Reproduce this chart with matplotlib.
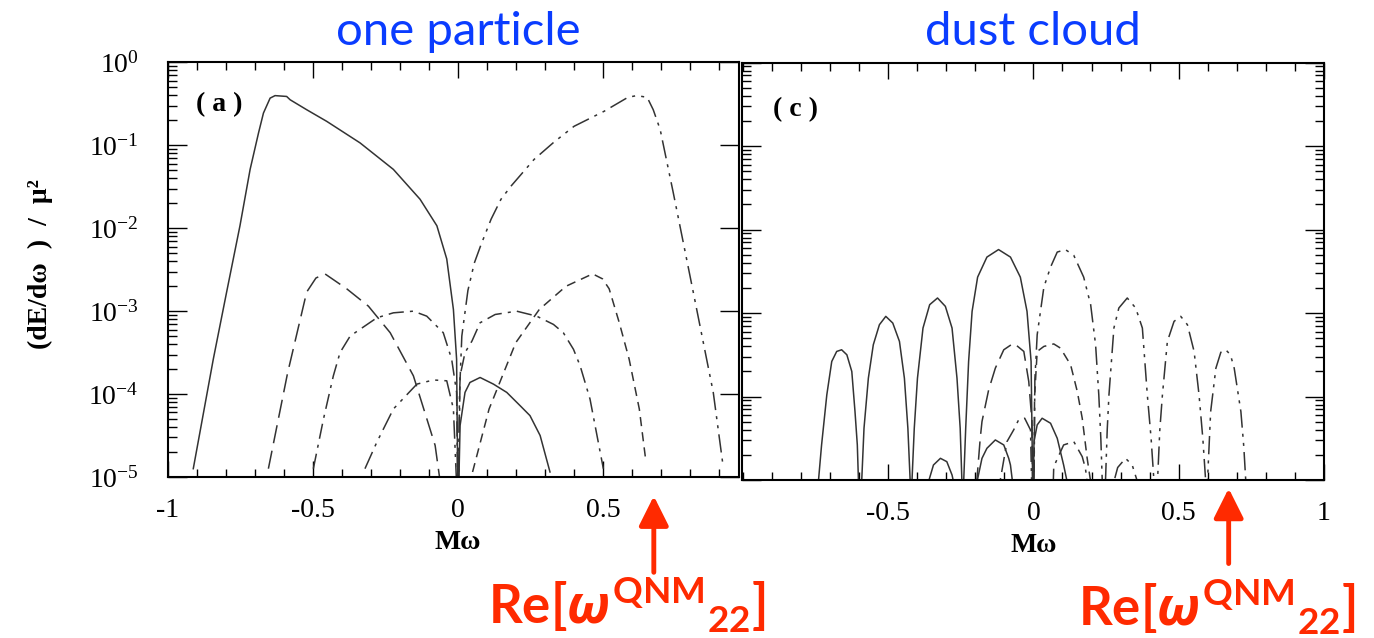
import matplotlib
matplotlib.use("Agg")
import matplotlib.pyplot as plt
import numpy as np
from matplotlib.ticker import FixedLocator, FixedFormatter, LogLocator, MultipleLocator, NullFormatter

plt.rcParams["mathtext.fontset"] = "custom"
plt.rcParams["mathtext.rm"] = "Liberation Serif"
plt.rcParams["mathtext.sf"] = "Lato:bold"
plt.rcParams["mathtext.it"] = "Open Sans:italic:bold"
plt.rcParams["mathtext.bf"] = "Liberation Serif:bold"

# values: x = M*omega, y given as log10((dE/domega)/mu^2)

# panel (a) one particle
a_solid_x = [-0.913, -0.844, -0.798, -0.752, -0.717, -0.688, -0.671, -0.648, -0.631, -0.591,
             -0.579, -0.522, -0.453, -0.338, -0.223, -0.131, -0.073, -0.039, -0.016, -0.005, 0.0]
a_solid_lg = [-4.90, -3.58, -2.77, -1.97, -1.29, -0.85, -0.61, -0.43, -0.40, -0.41,
              -0.45, -0.57, -0.71, -0.97, -1.29, -1.65, -1.97, -2.37, -2.98, -3.58, -5.5]

a_long_x = [-0.654, -0.588, -0.522, -0.49, -0.459, -0.384, -0.309, -0.234, -0.154, -0.079, -0.06]
a_long_lg = [-4.90, -3.75, -2.77, -2.60, -2.55, -2.73, -2.94, -3.26, -3.78, -4.62, -5.1]

a_dashdot_x = [-0.499, -0.464, -0.430, -0.407, -0.372, -0.280, -0.223, -0.154, -0.108, -0.051,
               -0.022, -0.005, 0.0, 0.007, 0.024, 0.048, 0.076, 0.128, 0.202, 0.271, 0.329,
               0.363, 0.398, 0.421, 0.455, 0.501]
a_dashdot_lg = [-4.90, -4.30, -3.78, -3.50, -3.30, -3.08, -3.02, -3.00, -3.06, -3.26,
                -3.58, -3.98, -5.5, -3.78, -3.50, -3.36, -3.14, -3.04, -3.00, -3.06, -3.16,
                -3.26, -3.46, -3.66, -4.06, -4.90]

a_ddd_small_x = [-0.321, -0.280, -0.223, -0.142, -0.085, -0.039, -0.016, 0.0]
a_ddd_small_lg = [-4.90, -4.58, -4.18, -3.88, -3.83, -3.84, -4.18, -5.5]

a_ddd_big_x = [0.0, 0.005, 0.013, 0.034, 0.056, 0.079, 0.114, 0.148, 0.183, 0.262, 0.331,
               0.400, 0.503, 0.586, 0.616, 0.652, 0.673, 0.697, 0.742, 0.811, 0.880, 0.914]
a_ddd_big_lg = [-5.5, -4.0, -3.30, -2.75, -2.42, -2.20, -1.89, -1.65, -1.49, -1.17, -0.96,
                -0.77, -0.59, -0.42, -0.40, -0.42, -0.57, -0.81, -1.57, -2.77, -3.98, -4.87]

a_solid_small_x = [0.0, 0.007, 0.024, 0.041, 0.076, 0.122, 0.168, 0.214, 0.248, 0.283, 0.317]
a_solid_small_lg = [-5.5, -4.38, -3.98, -3.86, -3.80, -3.88, -3.98, -4.14, -4.26, -4.50, -4.94]

a_short_x = [0.050, 0.107, 0.199, 0.280, 0.372, 0.464, 0.498, 0.521, 0.556, 0.590, 0.625, 0.648]
a_short_lg = [-4.94, -4.18, -3.38, -2.98, -2.70, -2.55, -2.61, -2.73, -3.14, -3.58, -4.18, -4.82]

# panel (c) dust cloud
c_solid_x = [-0.745, -0.740, -0.729, -0.711, -0.694, -0.677, -0.660, -0.642, -0.625, -0.614, -0.606, -0.602,
             -0.597, -0.591, -0.583, -0.568, -0.551, -0.530, -0.508, -0.484, -0.461, -0.444, -0.432, -0.424,
             -0.421, -0.418, -0.410, -0.399, -0.380, -0.357, -0.330, -0.303, -0.280, -0.263, -0.252, -0.246,
             -0.243, -0.240, -0.233, -0.223, -0.211, -0.192, -0.160, -0.120, -0.079, -0.045, -0.022, -0.008, 0.001]
c_solid_lg = [-6.0, -5.02, -4.58, -3.98, -3.58, -3.46, -3.44, -3.50, -3.70, -4.18, -4.58, -5.02,
              -6.0, -5.02, -4.38, -3.78, -3.38, -3.14, -3.04, -3.12, -3.34, -3.78, -4.38, -5.02,
              -6.0, -5.02, -4.38, -3.78, -3.18, -2.90, -2.82, -2.92, -3.18, -3.78, -4.38, -5.02,
              -6.0, -5.02, -4.38, -3.58, -2.98, -2.57, -2.33, -2.24, -2.33, -2.57, -2.98, -3.58, -6.0]

c_solid_small_x = [-0.365, -0.361, -0.344, -0.320, -0.298, -0.280, -0.275, -0.24,
                   -0.194, -0.177, -0.160, -0.131, -0.102, -0.085, -0.079, -0.072, -0.036,
                   0.0, 0.002, 0.013, 0.030, 0.059, 0.082, 0.104, 0.116, 0.12]
c_solid_small_lg = [-6.0, -5.02, -4.82, -4.74, -4.78, -4.94, -5.02, -6.0,
                    -5.02, -4.74, -4.62, -4.52, -4.58, -4.74, -4.82, -5.02, -6.0,
                    -5.02, -4.54, -4.34, -4.26, -4.32, -4.50, -4.82, -5.02, -6.0]

c_ddd_x = [0.0, 0.005, 0.013, 0.036, 0.059, 0.082, 0.110, 0.139, 0.173, 0.197, 0.214, 0.225, 0.232, 0.237,
           0.243, 0.248, 0.254, 0.260, 0.277, 0.294, 0.323, 0.352, 0.375, 0.392, 0.405, 0.415,
           0.421, 0.427, 0.435, 0.444, 0.461, 0.484, 0.507, 0.530, 0.553, 0.570, 0.583, 0.593,
           0.596, 0.599, 0.610, 0.628, 0.645, 0.662, 0.678, 0.691, 0.714, 0.724, 0.731, 0.736]
c_ddd_lg = [-6.0, -3.80, -3.26, -2.69, -2.45, -2.27, -2.24, -2.31, -2.57, -2.90, -3.38, -3.98, -4.50, -5.02,
            -6.0, -5.02, -4.40, -3.98, -3.18, -2.94, -2.82, -2.94, -3.18, -3.98, -4.50, -5.02,
            -6.0, -5.02, -4.40, -3.98, -3.34, -3.10, -3.04, -3.14, -3.46, -3.98, -4.50, -5.02,
            -6.0, -5.02, -4.18, -3.66, -3.47, -3.44, -3.50, -3.66, -4.18, -4.60, -5.02, -6.0]

c_ddd_small_x = [0.272, 0.277, 0.290, 0.317, 0.340, 0.358, 0.362]
c_ddd_small_lg = [-6.0, -5.02, -4.85, -4.74, -4.82, -5.02, -6.0]

c_long_x = [-0.20, -0.195, -0.183, -0.177, -0.154, -0.131, -0.102, -0.068, -0.033, -0.016, -0.005, 0.0]
c_long_lg = [-6.0, -5.02, -4.50, -4.30, -3.92, -3.66, -3.44, -3.36, -3.46, -3.82, -4.30, -6.0]

c_short_x = [0.0, 0.004, 0.013, 0.036, 0.070, 0.093, 0.128, 0.151, 0.168, 0.185, 0.197, 0.20]
c_short_lg = [-6.0, -4.00, -3.46, -3.40, -3.37, -3.42, -3.62, -3.94, -4.26, -4.74, -5.02, -6.0]

c_dashdot_x = [-0.12, -0.115, -0.091, -0.068, -0.051, -0.030, -0.010, 0.0,
               0.06, 0.070, 0.104, 0.139, 0.168, 0.179, 0.185, 0.19]
c_dashdot_lg = [-6.0, -5.02, -4.54, -4.40, -4.28, -4.26, -4.40, -6.0,
                -6.0, -4.84, -4.58, -4.54, -4.72, -4.86, -5.02, -6.0]

ytick_vals = [1e-5, 1e-4, 1e-3, 1e-2, 1e-1, 1e0]
ytick_labels = [r"$\mathrm{10^{-5}}$", r"$\mathrm{10^{-4}}$", r"$\mathrm{10^{-3}}$",
                r"$\mathrm{10^{-2}}$", r"$\mathrm{10^{-1}}$", r"$\mathrm{10^{0}}$"]
a_xticks = [-1, -0.5, 0, 0.5]
a_xlabels = ["-1", "-0.5", "0", "0.5"]
c_xticks = [-0.5, 0, 0.5, 1]
c_xlabels = ["-0.5", "0", "0.5", "1"]

LINE = "0.2"
RED = "#ff2a00"
BLUE = "#0a3cff"
SERIF = "Liberation Serif"
SOLID = "-"
LONG = (0, (12, 5))
SHORT = (0, (6, 4))
DASHDOT = (0, (10, 4, 2, 4))
DDD = (0, (12, 4, 2, 4, 2, 4))
QNM = r"$\mathsf{Re[}\omega^{\mathsf{QNM}}{}_{\mathsf{22}}\mathsf{]}$"


def curve(ax, x, lg, ls):
    ax.plot(x, 10.0 ** np.asarray(lg), ls=ls, color=LINE, lw=1.1)


def style_axes(ax, xlim, xticks, xlabels, show_ylabels, right_minor):
    ax.set_yscale("log")
    ax.set_ylim(1e-5, 1.0)
    ax.set_xlim(*xlim)
    ax.xaxis.set_major_locator(FixedLocator(xticks))
    ax.xaxis.set_major_formatter(FixedFormatter(xlabels))
    ax.xaxis.set_minor_locator(MultipleLocator(0.1))
    ax.yaxis.set_major_locator(FixedLocator(ytick_vals))
    if show_ylabels:
        ax.yaxis.set_major_formatter(FixedFormatter(ytick_labels))
    else:
        ax.yaxis.set_major_formatter(NullFormatter())
    ax.yaxis.set_minor_locator(LogLocator(base=10, subs=np.arange(2, 10)))
    ax.yaxis.set_minor_formatter(NullFormatter())
    ax.tick_params(which="both", direction="in", top=True, right=True, width=1.0, color="black")
    ax.tick_params(axis="x", which="major", length=11.5, pad=15, labelsize=20)
    ax.tick_params(axis="x", which="minor", length=6)
    ax.tick_params(axis="y", which="major", length=13.5, pad=21, labelsize=20)
    ax.tick_params(axis="y", which="minor", length=6.5)
    if not right_minor:
        ax.tick_params(axis="y", which="minor", right=False)
    for lab in ax.get_xticklabels() + ax.get_yticklabels():
        lab.set_fontfamily(SERIF)
    for sp in ax.spines.values():
        sp.set_linewidth(1.5)
    ax.set_xlabel("Mω", fontsize=20, fontweight="bold", family=SERIF)
    ax.xaxis.set_label_coords(float(np.interp(0.0, xlim, [0, 1])), -0.128)


fig = plt.figure(figsize=(13.74, 6.38), dpi=100)
ax_a = fig.add_axes([0.1223, 0.2524, 0.4156, 0.6497])
ax_c = fig.add_axes([0.5400, 0.2476, 0.4236, 0.6544])

curve(ax_a, a_solid_x, a_solid_lg, SOLID)
curve(ax_a, a_long_x, a_long_lg, LONG)
curve(ax_a, a_dashdot_x, a_dashdot_lg, DASHDOT)
curve(ax_a, a_ddd_small_x, a_ddd_small_lg, DDD)
curve(ax_a, a_ddd_big_x, a_ddd_big_lg, DDD)
curve(ax_a, a_solid_small_x, a_solid_small_lg, SOLID)
curve(ax_a, a_short_x, a_short_lg, SHORT)

curve(ax_c, c_solid_x, c_solid_lg, SOLID)
curve(ax_c, c_solid_small_x, c_solid_small_lg, SOLID)
curve(ax_c, c_ddd_x, c_ddd_lg, DDD)
curve(ax_c, c_ddd_small_x, c_ddd_small_lg, DDD)
curve(ax_c, c_long_x, c_long_lg, LONG)
curve(ax_c, c_short_x, c_short_lg, SHORT)
curve(ax_c, c_dashdot_x, c_dashdot_lg, DASHDOT)

style_axes(ax_a, (-1.0, 0.969), a_xticks, a_xlabels, True, False)
style_axes(ax_c, (-1.003, 1.0), c_xticks, c_xlabels, False, True)

ax_a.text(-0.224, 0.513, "(dE/dω  )  /  μ²", transform=ax_a.transAxes, rotation=90,
          ha="center", va="center", fontsize=20, fontweight="bold", family=SERIF)

ax_a.text(0.049, 0.899, "( a )", transform=ax_a.transAxes, ha="left", va="center",
          fontsize=20, fontweight="bold", family=SERIF)
ax_c.text(0.053, 0.887, "( c )", transform=ax_c.transAxes, ha="left", va="center",
          fontsize=20, fontweight="bold", family=SERIF)

for ax, title in ((ax_a, "one particle"), (ax_c, "dust cloud")):
    ax.text(0.0, 1.043, title, transform=ax.get_xaxis_transform(), ha="center",
            va="baseline", fontsize=34, color=BLUE, family="Lato")

arrow_kw = dict(arrowstyle="-|>,head_length=0.4,head_width=0.2", color=RED, lw=3.5,
                mutation_scale=45, shrinkA=0, shrinkB=0)
ax_a.annotate("", xy=(0.675, -0.046), xytext=(0.675, -0.23), xycoords=ax_a.get_xaxis_transform(),
              arrowprops=arrow_kw, annotation_clip=False)
ax_a.text(0.583, -0.31, QNM, transform=ax_a.get_xaxis_transform(), ha="center", va="center",
          color=RED, fontsize=38)
ax_c.annotate("", xy=(0.672, -0.02), xytext=(0.672, -0.20), xycoords=ax_c.get_xaxis_transform(),
              arrowprops=arrow_kw, annotation_clip=False)
ax_c.text(0.631, -0.305, QNM, transform=ax_c.get_xaxis_transform(), ha="center", va="center",
          color=RED, fontsize=38)

fig.savefig("out.png", dpi=100)
